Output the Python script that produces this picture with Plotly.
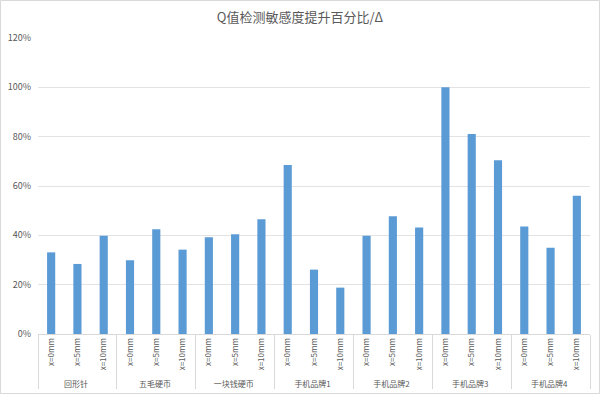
import plotly.graph_objects as go

groups = ["回形针", "五毛硬币", "一块钱硬币", "手机品牌1", "手机品牌2", "手机品牌3", "手机品牌4"]
distances = ["x=0mm", "x=5mm", "x=10mm"]
values = [
    [0.331, 0.284, 0.398],
    [0.299, 0.425, 0.342],
    [0.392, 0.404, 0.465],
    [0.685, 0.261, 0.188],
    [0.398, 0.477, 0.432],
    [1.000, 0.811, 0.704],
    [0.436, 0.350, 0.560],
]
title = "Q值检测敏感度提升百分比/Δ"

outer = [g for g in groups for _ in distances]
inner = [d for _ in groups for d in distances]
flat = [v for row in values for v in row]

font = "Noto Sans CJK SC, Noto Sans, sans-serif"
fig = go.Figure(go.Bar(x=[outer, inner], y=flat, marker=dict(color="#5b9bd5", line=dict(width=0))))

W, H = 600, 394
L, R, T, B = 38, 10, 38, 60
fig.update_layout(
    width=W, height=H,
    margin=dict(l=L, r=R, t=T, b=B, autoexpand=False),
    paper_bgcolor="white", plot_bgcolor="white",
    bargap=0.69,
    showlegend=False,
    font=dict(family=font, color="#595959", size=9),
    title=dict(text=title, x=0.5, xanchor="center", y=1 - 17 / H, yanchor="middle",
               font=dict(size=13, color="#595959", family=font)),
)
fig.update_yaxes(range=[0, 1.2], dtick=0.2, tickformat=".0%", showgrid=True, gridcolor="#e3e3e3",
                 gridwidth=1, zeroline=False, showline=False, ticks="", ticklabelstandoff=6,
                 tickfont=dict(size=9, color="#595959"), automargin=False)
fig.update_xaxes(type="multicategory", showline=True, linecolor="#d9d9d9", linewidth=1,
                 showdividers=True, dividercolor="#d9d9d9", dividerwidth=1,
                 tickangle=-90, ticks="", tickfont=dict(size=8, color="#595959"), showgrid=False,
                 automargin=False)

pw = W - L - R
ph = H - T - B
fig.add_shape(type="rect", xref="paper", yref="paper",
              x0=(0.5 - L) / pw, x1=1 + (R - 0.5) / pw,
              y0=-(B - 0.5) / ph, y1=1 + (T - 0.5) / ph,
              line=dict(color="#d9d9d9", width=1), fillcolor="rgba(0,0,0,0)", layer="above")

fig.write_html("out.html", config={"displayModeBar": False},
               post_script="document.body.style.margin='0';")
